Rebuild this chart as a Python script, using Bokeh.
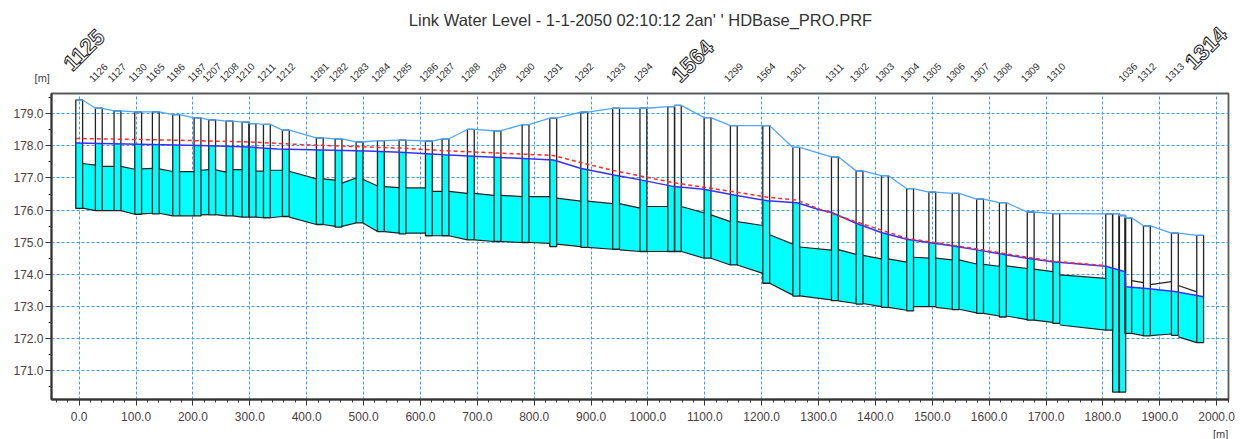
import numpy as np
from bokeh.plotting import figure
from bokeh.layouts import column
from bokeh.core.properties import value
from bokeh.models import Range1d, FixedTicker, PrintfTickFormatter, Label, LabelSet, ColumnDataSource
from bokeh.embed import file_html
from bokeh.resources import INLINE

# ---------------- data ----------------
title_text = "Link Water Level - 1-1-2050 02:10:12 2an' ' HDBase_PRO.PRF"

mh_label = ["1125", "1126", "1127", "1130", "1165", "1186", "1187", "1207", "1208", "1210",
            "", "1211", "1212", "1281", "1282", "1283", "1284", "1285", "1286", "1287",
            "1288", "1289", "1290", "1291", "1292", "1293", "1294", "", "1564", "",
            "1299", "1564", "1301", "1311", "1302", "1303", "1304", "1305", "1306", "1307",
            "1308", "1309", "1310", "", "", "", "1036", "1312", "1313", "1314"]
mh_chainage = [0.0, 34.5, 67.3, 103.7, 134.7, 170.5, 208.0, 233.8, 264.3, 292.4,
               304.7, 330.0, 363.3, 423.0, 456.0, 492.9, 530.4, 568.5, 614.8, 644.0,
               688.6, 735.5, 784.8, 833.5, 888.0, 944.0, 992.0, 1041.0, 1052.6, 1104.8,
               1151.0, 1208.0, 1260.8, 1328.7, 1372.0, 1416.6, 1461.0, 1500.0, 1541.0, 1584.0,
               1624.0, 1673.0, 1718.0, 1811.0, 1823.0, 1834.0, 1844.5, 1877.3, 1926.5, 1971.0]
mh_ground = [179.43, 179.17, 179.09, 179.06, 179.06, 178.97, 178.87, 178.81, 178.77, 178.74,
             178.69, 178.67, 178.49, 178.25, 178.22, 178.12, 178.16, 178.18, 178.15, 178.22,
             178.51, 178.47, 178.66, 178.86, 179.05, 179.17, 179.17, 179.22, 179.26, 178.88,
             178.63, 178.63, 177.95, 177.66, 177.22, 177.07, 176.67, 176.56, 176.52, 176.34,
             176.23, 175.94, 175.89, 175.88, 175.89, 175.83, 175.76, 175.51, 175.28, 175.21]
mh_bottom = [176.05, 175.98, 175.98, 175.87, 175.88, 175.82, 175.82, 175.85, 175.82, 175.78,
             175.78, 175.76, 175.80, 175.55, 175.47, 175.60, 175.33, 175.26, 175.20, 175.20,
             175.07, 175.02, 174.99, 174.86, 174.84, 174.78, 174.71, 174.71, 174.71, 174.50,
             174.29, 173.72, 173.32, 173.18, 173.07, 172.97, 172.86, 172.99, 172.90, 172.78,
             172.67, 172.57, 172.47, 172.26, 170.33, 170.33, 172.16, 172.08, 172.10, 171.87]

# pipes between consecutive manholes (upstream / downstream)
pipe_inv_up = [176.06, 175.98, 175.98, 175.88, 175.90, 175.82, 175.85, 175.86, 175.82, 175.78,
               175.78, 175.76, 175.78, 175.55, 175.49, 175.60, 175.33, 175.28, 175.20, 175.20,
               175.07, 175.02, 174.99, 174.94, 174.84, 174.76, 174.71, 174.71, 174.71, 174.50,
               174.29, 173.72, 173.33, 173.17, 173.09, 172.97, 172.99, 172.97, 172.91, 172.78,
               172.70, 172.57, 172.42, 172.26, 172.26, 172.18, 172.16, 172.09, 172.05]
pipe_inv_dn = [175.98, 175.98, 175.87, 175.90, 175.82, 175.82, 175.86, 175.82, 175.78, 175.78,
               175.76, 175.80, 175.55, 175.49, 175.60, 175.33, 175.28, 175.28, 175.20, 175.07,
               175.02, 174.99, 174.96, 174.86, 174.78, 174.71, 174.71, 174.71, 174.50, 174.29,
               174.03, 173.35, 173.20, 173.09, 172.99, 172.88, 172.99, 172.91, 172.80, 172.70,
               172.59, 172.50, 172.26, 172.26, 172.18, 172.16, 172.09, 172.14, 171.87]
pipe_crown_up = [177.45, 177.36, 177.36, 177.28, 177.28, 177.20, 177.24, 177.25, 177.26, 177.12,
                 177.21, 177.24, 177.21, 176.97, 176.84, 176.96, 176.73, 176.69, 176.58, 176.58,
                 176.52, 176.46, 176.42, 176.37, 176.28, 176.20, 176.11, 176.11, 176.11, 175.85,
                 175.64, 175.23, 174.85, 174.77, 174.59, 174.48, 174.53, 174.50, 174.45, 174.31,
                 174.26, 174.16, 173.98, 173.87, 173.87, 173.80, 173.80, 173.68, 173.65]
pipe_crown_dn = [177.40, 177.36, 177.27, 177.30, 177.20, 177.20, 177.26, 177.18, 177.26, 177.15,
                 177.21, 177.24, 176.97, 176.93, 177.00, 176.75, 176.70, 176.69, 176.58, 176.52,
                 176.46, 176.42, 176.42, 176.28, 176.20, 176.06, 176.11, 176.11, 175.91, 175.64,
                 175.52, 174.94, 174.75, 174.62, 174.48, 174.38, 174.50, 174.45, 174.32, 174.25,
                 174.18, 174.08, 173.87, 173.87, 173.80, 173.80, 173.74, 173.77, 173.45]

# water level (blue) and max level (red dashed)
wl_chainage = [-6, 213, 301, 348, 506, 565, 641, 834, 881, 940, 987, 1046, 1098, 1151, 1210,
               1262, 1303, 1322, 1366, 1410, 1455, 1493, 1534, 1578, 1618, 1667, 1711, 1805,
               1839, 1840, 1877, 1926, 1977]
wl_level = [178.09, 178.01, 177.96, 177.90, 177.84, 177.80, 177.72, 177.56, 177.30, 177.09,
            176.94, 176.73, 176.65, 176.47, 176.29, 176.23, 176.00, 175.93, 175.59, 175.30,
            175.09, 174.99, 174.89, 174.76, 174.64, 174.50, 174.39, 174.25, 174.08, 173.61,
            173.56, 173.46, 173.30]
max_chainage = [-6, 160, 301, 389, 565, 641, 834, 881, 940, 1046, 1151, 1210, 1262, 1303,
                1366, 1455, 1578, 1667, 1711, 1805]
max_level = [178.23, 178.18, 178.12, 178.04, 177.93, 177.85, 177.70, 177.48, 177.23, 176.85,
             176.57, 176.40, 176.31, 176.02, 175.63, 175.12, 174.79, 174.53, 174.41, 174.27]

x_ticks = list(range(0, 2001, 100))
x_minor = list(range(-40, 2021, 20))
y_ticks = [171, 172, 173, 174, 175, 176, 177, 178, 179]
y_minor = [170.5 + i for i in range(10)]

# ---------------- styling constants ----------------
FONT = "Liberation Sans"
CYAN = "#00ffff"
INK = "#222222"
LABEL_INK = "#4a4040"


def bare(height, y0, y1):
    f = figure(width=1240, height=height, output_backend="svg", toolbar_location=None,
               x_range=Range1d(-138.4, 2042.0), y_range=Range1d(y0, y1),
               x_axis_location=None, y_axis_location=None,
               min_border=0, title=None)
    f.frame_align = False
    f.grid.visible = False
    f.outline_line_color = None
    f.background_fill_color = "white"
    f.border_fill_color = "white"
    return f


# ---------------- header (title + node names) ----------------
head = bare(92, 179.697, 182.572)
head.add_layout(Label(x=987, y=181.95, text=title_text, text_font=FONT, text_font_size="16.5px",
                      text_color="#333333", text_align="center", text_baseline="middle"))
head.add_layout(Label(x=-65, y=180.14, text="[m]", text_font=FONT, text_font_size="11px",
                      text_color=LABEL_INK, text_align="center", text_baseline="middle"))

big = {"1125": (0, -12.0, 180.33), "1564": (28, 4.7, 179.97), "1314": (49, -11.0, 180.38)}
big_idx = {v[0] for v in big.values()}
lx, ly, lt = [], [], []
for i, t in enumerate(mh_label):
    if t and i not in big_idx:
        lx.append(mh_chainage[i] - 10.0)
        ly.append(180.0)
        lt.append(t)
src = ColumnDataSource(dict(x=lx, y=ly, text=lt))
head.add_layout(LabelSet(x="x", y="y", text="text", source=src,
                         angle=value(float(np.pi / 4)), angle_units="rad",
                         text_font=value(FONT), text_font_size=value("10px"),
                         text_color=value("#333333"),
                         text_align="left", text_baseline="bottom"))
for t, (i, dx, yy) in big.items():
    head.add_layout(Label(x=mh_chainage[i] + dx, y=yy, text=t, angle=float(np.pi / 4),
                          text_font=FONT, text_font_size="22px", text_font_style="bold",
                          text_color="white", text_outline_color="#222222",
                          background_fill_color="white",
                          text_align="left", text_baseline="bottom"))

# ---------------- main chart ----------------
p = figure(width=1240, height=335, output_backend="svg", toolbar_location=None,
           x_range=Range1d(-48.7, 2020.8), y_range=Range1d(170.10, 179.63),
           min_border_left=51, min_border_right=12, min_border_top=1, min_border_bottom=28,
           title=None)
p.background_fill_color = "white"
p.border_fill_color = "white"
p.outline_line_color = "#5a5a5a"
p.outline_line_width = 1.8

for ax in (p.xaxis[0], p.yaxis[0]):
    ax.axis_line_color = "#333333"
    ax.axis_line_width = 2
    ax.major_tick_line_color = "#333333"
    ax.minor_tick_line_color = "#333333"
    ax.major_tick_in = 0
    ax.minor_tick_in = 0
    ax.major_tick_out = 6
    ax.minor_tick_out = 3
    ax.major_label_text_font = FONT
    ax.major_label_text_font_size = "12px"
    ax.major_label_text_color = LABEL_INK
    ax.formatter = PrintfTickFormatter(format="%.1f")
p.xaxis[0].ticker = FixedTicker(ticks=x_ticks, minor_ticks=x_minor)
p.yaxis[0].ticker = FixedTicker(ticks=y_ticks, minor_ticks=y_minor)
p.xaxis[0].major_label_standoff = 6
p.yaxis[0].major_label_standoff = 2

for g in (p.xgrid[0], p.ygrid[0]):
    g.grid_line_color = "#3d9cff"
    g.grid_line_dash = "3 2"
    g.grid_line_width = 1

MW = 12.0
mx = np.array(mh_chainage)
mleft = mx - MW / 2
mright = mx + MW / 2
ground = np.array(mh_ground)
bottom = np.array(mh_bottom)

ps = mright[:-1]
pe = mleft[1:]
wl_s = np.interp(ps, wl_chainage, wl_level)
wl_e = np.interp(pe, wl_chainage, wl_level)
top_s = np.minimum(np.array(pipe_crown_up), wl_s)
top_e = np.minimum(np.array(pipe_crown_dn), wl_e)

xs, ys = [], []
for i in range(len(ps)):
    if pe[i] > ps[i]:
        xs.append([ps[i], pe[i], pe[i], ps[i]])
        ys.append([pipe_inv_up[i], pipe_inv_dn[i], top_e[i], top_s[i]])
p.patches(xs, ys, fill_color=CYAN, line_color=None)

mh_wl = np.minimum(np.interp(mx, wl_chainage, wl_level), ground)
p.quad(left=mleft, right=mright, bottom=bottom, top=mh_wl, fill_color=CYAN, line_color=None)

keep = pe > ps
p.segment(ps[keep], np.array(pipe_inv_up)[keep], pe[keep], np.array(pipe_inv_dn)[keep],
          line_color=INK, line_width=1.2)
p.segment(ps[keep], np.array(pipe_crown_up)[keep], pe[keep], np.array(pipe_crown_dn)[keep],
          line_color=INK, line_width=1.2)

p.quad(left=mleft, right=mright, bottom=bottom, top=ground, fill_color=None,
       line_color=INK, line_width=1.3)

gx, gy = [], []
for l, r, g in zip(mleft, mright, ground):
    gx += [l, r]
    gy += [g, g]
p.line(gx, gy, line_color="#4da6ff", line_width=1.3)

p.line(wl_chainage, wl_level, line_color="#3333ff", line_width=1.5)
p.line(max_chainage, max_level, line_color="#ff2a2a", line_width=1.5, line_dash="4 3")

# ---------------- footer (x unit) ----------------
foot = bare(12, 0.0, 12.0)
foot.add_layout(Label(x=2007, y=6.0, text="[m]", text_font=FONT, text_font_size="11px",
                      text_color=LABEL_INK, text_align="center", text_baseline="middle"))

layout = column(head, p, foot, spacing=0)
open("out.html", "w").write(file_html(layout, INLINE))
